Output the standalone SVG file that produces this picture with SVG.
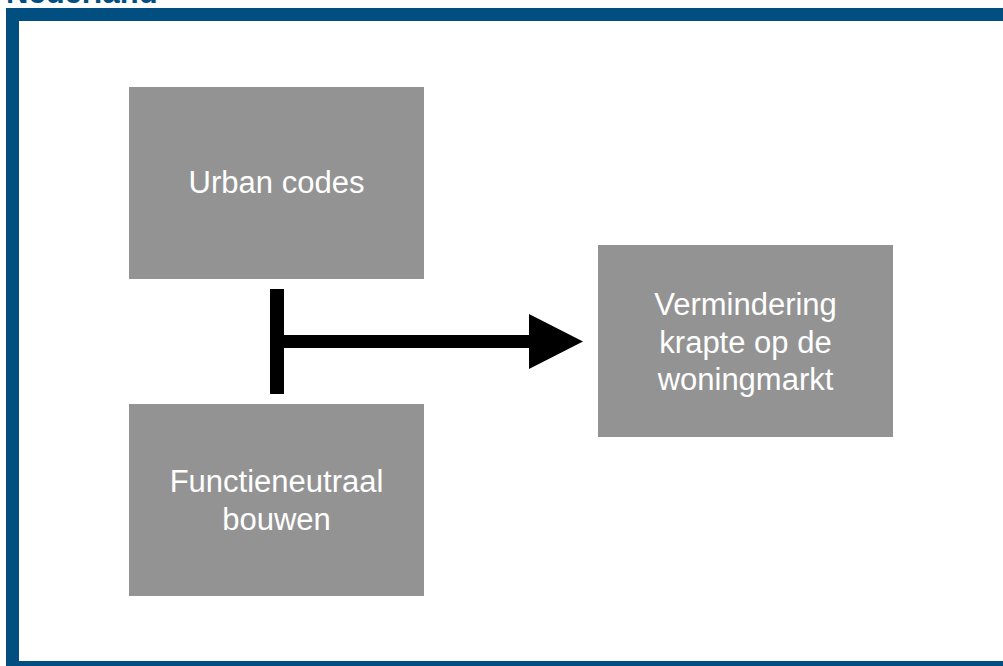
<svg xmlns="http://www.w3.org/2000/svg" width="1003" height="666" viewBox="0 0 1003 666">
<style>
.box{fill:#939393}
.lbl{fill:#ffffff;font-family:"Liberation Sans",Arial,sans-serif;font-size:31px;text-anchor:middle}
.title{fill:#004f80;font-family:"Liberation Sans",Arial,sans-serif;font-size:31px;font-weight:bold}
</style>
<rect width="1003" height="666" fill="#ffffff"/>
<text class="title" x="6" y="3">Nederland</text>
<rect x="12.5" y="14.5" width="1000" height="653" fill="none" stroke="#004f80" stroke-width="13"/>
<g id="urban-codes">
<rect class="box" x="129" y="87" width="295" height="192"/>
<text class="lbl" x="276.5" y="193">Urban codes</text>
</g>
<g id="functieneutraal-bouwen">
<rect class="box" x="129" y="404" width="295" height="192"/>
<text class="lbl" x="276.5" y="492">Functieneutraal</text>
<text class="lbl" x="276.5" y="530">bouwen</text>
</g>
<g id="vermindering-krapte">
<rect class="box" x="598" y="245" width="295" height="192"/>
<text class="lbl" x="745.5" y="315">Vermindering</text>
<text class="lbl" x="745.5" y="353">krapte op de</text>
<text class="lbl" x="745.5" y="390">woningmarkt</text>
</g>
<g id="connectors">
<rect x="270" y="289" width="14" height="105" fill="#000"/>
<rect x="283" y="335" width="248" height="13" fill="#000"/>
<polygon points="529,314 583,341.5 529,369" fill="#000"/>
</g>
</svg>
